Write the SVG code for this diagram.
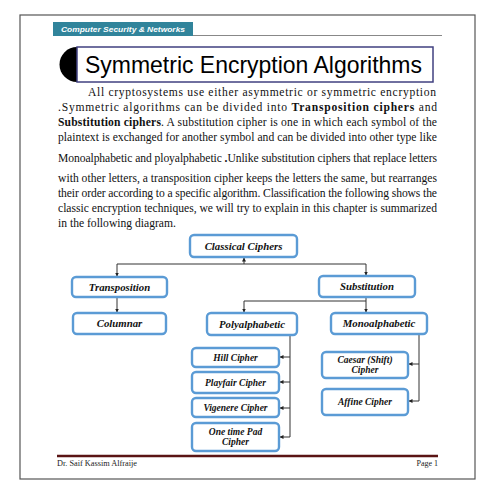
<svg xmlns="http://www.w3.org/2000/svg" width="495" height="495" viewBox="0 0 495 495">
<defs>
<marker id="ah" viewBox="0 0 6 6" refX="6" refY="3" markerWidth="4" markerHeight="4" orient="auto">
<path d="M0,0 L6,3 L0,6 z" fill="#222"/>
</marker>
<style>
.para{font-family:"Liberation Serif","Times New Roman",serif;font-size:11.6px;fill:#111}
.b{font-weight:bold}
.node rect{fill:#fff;stroke:#5b9bd5;stroke-width:2.4}
.node text{font-family:"Liberation Serif","Times New Roman",serif;font-weight:bold;font-style:italic;fill:#111;text-anchor:middle}
.big text{font-size:10.8px}
.small text{font-size:9.5px}
.conn line,.conn path{stroke:#333;stroke-width:1;fill:none}
</style>
</defs>
<rect x="0" y="0" width="495" height="495" fill="#fff"/>
<rect x="20" y="15" width="455" height="464" fill="none" stroke="#555" stroke-width="1.2"/>
<rect x="53" y="22" width="140" height="14" fill="#31849b"/>
<text x="61" y="32" font-family="Liberation Sans,Arial,sans-serif" font-size="8" font-weight="bold" font-style="italic" fill="#fff" textLength="124" lengthAdjust="spacingAndGlyphs">Computer Security &amp; Networks</text>
<line x1="193" y1="35.5" x2="442" y2="35.5" stroke="#888" stroke-width="1"/>
<path d="M77,47 A17.5,17.5 0 0 0 77,82 Z" fill="#000"/>
<rect x="77" y="47" width="356" height="35" fill="#fff" stroke="#404080" stroke-width="1.5"/>
<text x="85" y="73" font-family="Liberation Sans,Arial,sans-serif" font-size="24" fill="#000" textLength="337" lengthAdjust="spacingAndGlyphs">Symmetric Encryption Algorithms</text>
<g class="para">
<text x="88" y="96" textLength="348" lengthAdjust="spacing">All cryptosystems use either asymmetric or symmetric encryption</text>
<text x="58" y="111" textLength="379" lengthAdjust="spacing">.Symmetric algorithms can be divided into <tspan class="b">Transposition ciphers</tspan> and</text>
<text x="58" y="126" textLength="379" lengthAdjust="spacing"><tspan class="b">Substitution ciphers</tspan>. A substitution cipher is one in which each symbol of the</text>
<text x="58" y="141" textLength="379" lengthAdjust="spacing">plaintext is exchanged for another symbol and can be divided into other type like</text>
<text x="58" y="162" textLength="379" lengthAdjust="spacing">Monoalphabetic and ployalphabetic <tspan class="b">.</tspan>Unlike substitution ciphers that replace letters</text>
<text x="58" y="182" textLength="379" lengthAdjust="spacing">with other letters, a transposition cipher keeps the letters the same, but rearranges</text>
<text x="58" y="197" textLength="379" lengthAdjust="spacing">their order according to a specific algorithm. Classification the following shows the</text>
<text x="58" y="212" textLength="379" lengthAdjust="spacing">classic encryption techniques, we will try to explain in this chapter is summarized</text>
<text x="58" y="227">in the following diagram.</text>
</g>
<g class="conn">
<line x1="117" y1="264" x2="366" y2="264"/>
<line x1="244" y1="264" x2="244" y2="257.5" marker-end="url(#ah)"/>
<line x1="117" y1="264" x2="117" y2="276.5" marker-end="url(#ah)"/>
<line x1="366" y1="264" x2="366" y2="275.5" marker-end="url(#ah)"/>
<line x1="117" y1="297" x2="117" y2="312.5" marker-end="url(#ah)"/>
<line x1="366" y1="297" x2="366" y2="312.5" marker-end="url(#ah)"/>
<line x1="244" y1="301" x2="366" y2="301"/>
<line x1="244" y1="301" x2="244" y2="312.5" marker-end="url(#ah)"/>
<line x1="290" y1="335" x2="290" y2="437"/>
<line x1="290" y1="357" x2="279.5" y2="357" marker-end="url(#ah)"/>
<line x1="290" y1="382" x2="279.5" y2="382" marker-end="url(#ah)"/>
<line x1="290" y1="408" x2="279.5" y2="408" marker-end="url(#ah)"/>
<line x1="290" y1="437" x2="279.5" y2="437" marker-end="url(#ah)"/>
<line x1="419" y1="334" x2="419" y2="401"/>
<line x1="419" y1="364" x2="408.5" y2="364" marker-end="url(#ah)"/>
<line x1="419" y1="401" x2="408.5" y2="401" marker-end="url(#ah)"/>
</g>
<g id="classical" class="node big"><rect x="190" y="235" width="107" height="22" rx="4"/><text x="243.5" y="249.5">Classical Ciphers</text></g>
<g id="transposition" class="node big"><rect x="72" y="277" width="95" height="20" rx="4"/><text x="119.5" y="290.5">Transposition</text></g>
<g id="substitution" class="node big"><rect x="319" y="276" width="96" height="21" rx="4"/><text x="367" y="290">Substitution</text></g>
<g id="columnar" class="node big"><rect x="73" y="313" width="93" height="21" rx="4"/><text x="119.5" y="327">Columnar</text></g>
<g id="polyalphabetic" class="node big"><rect x="207" y="313" width="90" height="22" rx="4"/><text x="252" y="327.5">Polyalphabetic</text></g>
<g id="monoalphabetic" class="node big"><rect x="331" y="313" width="96" height="21" rx="4"/><text x="379" y="327">Monoalphabetic</text></g>
<g id="hill" class="node small"><rect x="192" y="348" width="87" height="19" rx="4"/><text x="235.5" y="360.5">Hill Cipher</text></g>
<g id="playfair" class="node small"><rect x="192" y="372" width="87" height="21" rx="4"/><text x="235.5" y="385.5">Playfair Cipher</text></g>
<g id="vigenere" class="node small"><rect x="192" y="398" width="87" height="19" rx="4"/><text x="235.5" y="410.5">Vigenere Cipher</text></g>
<g id="onetimepad" class="node small"><rect x="192" y="423" width="87" height="28" rx="4"/><text x="235.5" y="435">One time Pad</text><text x="235.5" y="445">Cipher</text></g>
<g id="caesar" class="node small"><rect x="322" y="352" width="86" height="26" rx="4"/><text x="365" y="363">Caesar (Shift)</text><text x="365" y="373">Cipher</text></g>
<g id="affine" class="node small"><rect x="322" y="389" width="86" height="26" rx="4"/><text x="365" y="405">Affine Cipher</text></g>
<line x1="57" y1="456" x2="438" y2="456" stroke="#5a1414" stroke-width="2.5"/>
<text x="57" y="466" font-family="Liberation Serif,serif" font-size="8" fill="#222" textLength="80" lengthAdjust="spacingAndGlyphs">Dr. Saif Kassim Alfraije</text>
<text x="438" y="466" font-family="Liberation Serif,serif" font-size="8" fill="#222" text-anchor="end">Page 1</text>
</svg>
